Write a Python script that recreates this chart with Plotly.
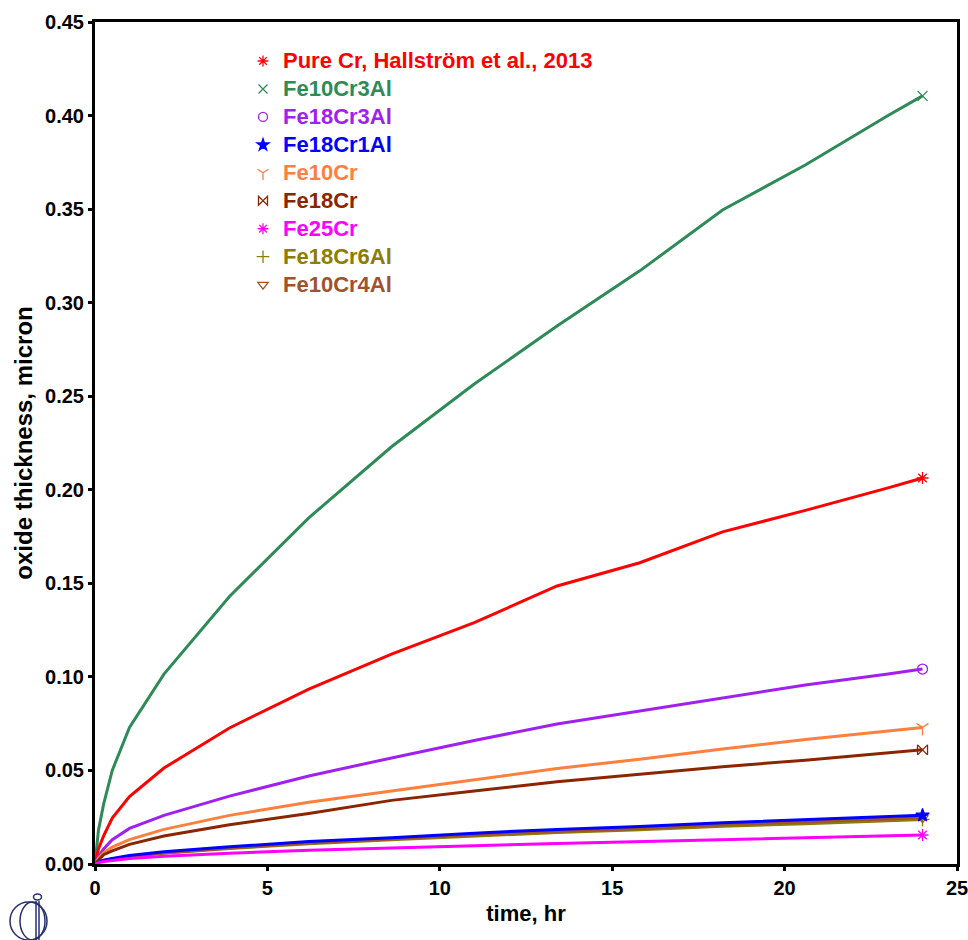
import plotly.graph_objects as go

# ---- data ----
time_hr = [0, 0.1, 0.25, 0.5, 1, 2, 3.9, 6.2, 8.6, 11, 13.4, 15.8, 18.2, 20.6, 23, 24]

pure_cr    = [0, 0.008, 0.015, 0.0245, 0.036, 0.0513, 0.0727, 0.0935, 0.1122, 0.129, 0.1486, 0.161, 0.1775, 0.189, 0.201, 0.2063]
fe10cr3al  = [0, 0.018, 0.032, 0.050, 0.073, 0.1015, 0.143, 0.185, 0.223, 0.2565, 0.2875, 0.317, 0.3495, 0.3736, 0.400, 0.4105]
fe18cr3al  = [0, 0.004, 0.008, 0.013, 0.019, 0.026, 0.0363, 0.047, 0.0567, 0.066, 0.0748, 0.0818, 0.089, 0.0957, 0.1015, 0.1042]
fe18cr1al  = [0, 0.001, 0.002, 0.003, 0.0045, 0.0065, 0.0092, 0.012, 0.014, 0.0165, 0.0185, 0.020, 0.022, 0.0235, 0.0252, 0.026]
fe10cr     = [0, 0.003, 0.006, 0.009, 0.013, 0.0185, 0.026, 0.033, 0.039, 0.045, 0.051, 0.056, 0.0615, 0.0665, 0.071, 0.073]
fe18cr     = [0, 0.002, 0.005, 0.007, 0.0105, 0.015, 0.021, 0.027, 0.034, 0.039, 0.044, 0.048, 0.052, 0.0555, 0.0593, 0.061]
fe25cr     = [0, 0.0007, 0.0013, 0.002, 0.003, 0.0042, 0.0058, 0.0073, 0.0087, 0.0098, 0.011, 0.012, 0.013, 0.014, 0.0150, 0.0155]
fe18cr6al  = [0, 0.001, 0.0018, 0.0027, 0.004, 0.0058, 0.0083, 0.0108, 0.013, 0.015, 0.0168, 0.0183, 0.0202, 0.0215, 0.0232, 0.0238]
fe10cr4al  = [0, 0.001, 0.0019, 0.0028, 0.0042, 0.006, 0.0086, 0.0112, 0.0135, 0.0156, 0.0175, 0.019, 0.021, 0.0223, 0.0240, 0.0247]

series = [
    ("Pure Cr, Hallström et al., 2013", pure_cr,   "#ff0000", "asterisk-open"),
    ("Fe10Cr3Al",                       fe10cr3al, "#2e8b57", "x-thin-open"),
    ("Fe18Cr3Al",                       fe18cr3al, "#a020f0", "circle-open"),
    ("Fe18Cr1Al",                       fe18cr1al, "#0000ff", "star"),
    ("Fe10Cr",                          fe10cr,    "#ff7f3f", "y-down-open"),
    ("Fe18Cr",                          fe18cr,    "#8b2500", "bowtie-open"),
    ("Fe25Cr",                          fe25cr,    "#ff00ff", "asterisk-open"),
    ("Fe18Cr6Al",                       fe18cr6al, "#8b7d00", "cross-thin-open"),
    ("Fe10Cr4Al",                       fe10cr4al, "#a0522d", "triangle-down-open"),
]
draw_order = [1, 0, 2, 4, 5, 7, 8, 3, 6]

FONT = "Arial, Liberation Sans, sans-serif"
fig = go.Figure()

for i in draw_order:
    name, ys, col, sym = series[i]
    fig.add_trace(go.Scatter(
        x=time_hr, y=ys, mode="lines", line=dict(color=col, width=3),
        showlegend=False, hoverinfo="skip"))
    fig.add_trace(go.Scatter(
        x=[time_hr[-1]], y=[ys[-1]], mode="markers",
        marker=dict(symbol=sym, color=col, size=10, line=dict(color=col, width=1.3)),
        showlegend=False, hoverinfo="skip"))

# legend entries (marker only, coloured text)
for i, (name, ys, col, sym) in enumerate(series):
    fig.add_trace(go.Scatter(
        x=[None], y=[None], mode="markers",
        name=f'<span style="color:{col};font-size:22px">{name}</span>',
        marker=dict(symbol=sym, color=col, size=9, line=dict(color=col, width=1.3)),
        showlegend=True))

# logo (decorative), positioned in pixels
W, H = 968, 940
L, R, T, B = 95, 11, 22, 76
pw, ph = W - L - R, H - T - B
def px(x): return (x - L) / pw
def py(y): return (H - B - y) / ph
logo_col = "#26306e"
shapes = [
    dict(type="circle", xref="paper", yref="paper", x0=px(10), x1=px(47), y0=py(940), y1=py(902),
         line=dict(color=logo_col, width=1.5)),
    dict(type="circle", xref="paper", yref="paper", x0=px(20), x1=px(45), y0=py(940), y1=py(902),
         line=dict(color=logo_col, width=1.5)),
    dict(type="line", xref="paper", yref="paper", x0=px(36), x1=px(36), y0=py(901), y1=py(940),
         line=dict(color=logo_col, width=1.5)),
    dict(type="line", xref="paper", yref="paper", x0=px(39), x1=px(39), y0=py(901), y1=py(940),
         line=dict(color=logo_col, width=1.5)),
    dict(type="circle", xref="paper", yref="paper", x0=px(33.5), x1=px(41.5), y0=py(900), y1=py(894),
         line=dict(color=logo_col, width=1.5)),
]

fig.update_layout(
    width=W, height=H,
    margin=dict(l=L, r=R, t=T, b=B, autoexpand=False),
    paper_bgcolor="white", plot_bgcolor="white",
    font=dict(family=FONT, size=20, color="black", weight="bold"),
    showlegend=True,
    legend=dict(x=px(243), y=py(42), xanchor="left", yanchor="top",
                bgcolor="rgba(0,0,0,0)", borderwidth=0,
                font=dict(family=FONT, size=19.2, weight="bold"),
                tracegroupgap=0, itemwidth=30),
    shapes=shapes,
    xaxis=dict(range=[0, 25], tickvals=[0, 5, 10, 15, 20, 25], automargin=False,
               ticklabeloverflow="allow",
               showline=True, linecolor="black", linewidth=3, mirror=True,
               ticks="outside", ticklen=4, tickwidth=3, tickcolor="black",
               showgrid=False, zeroline=False,
               tickfont=dict(family=FONT, size=20, weight="bold"),
               title=dict(text="time, hr", font=dict(family=FONT, size=22, weight="bold"), standoff=8)),
    yaxis=dict(range=[0, 0.45], tickvals=[0, 0.05, 0.1, 0.15, 0.2, 0.25, 0.3, 0.35, 0.4, 0.45],
               tickformat=".2f", automargin=False, ticklabeloverflow="allow",
               showline=True, linecolor="black", linewidth=3, mirror=True,
               ticks="outside", ticklen=4, tickwidth=3, tickcolor="black",
               showgrid=False, zeroline=False,
               tickfont=dict(family=FONT, size=20, weight="bold"),
               title=dict(text="oxide thickness, micron", font=dict(family=FONT, size=24, weight="bold"), standoff=6)),
)

fig.write_html("out.html")
